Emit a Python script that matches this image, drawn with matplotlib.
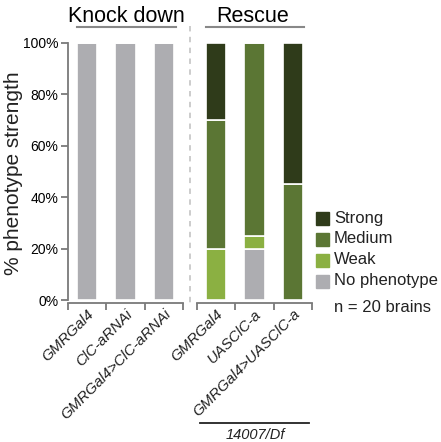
import matplotlib
matplotlib.use("Agg")
import matplotlib.pyplot as plt
from matplotlib.patches import Rectangle
from matplotlib.lines import Line2D

plt.rcParams['font.family'] = ['Liberation Sans', 'DejaVu Sans']

# Data
knockdown_labels = ["GMRGal4", "ClC-aRNAi", "GMRGal4>ClC-aRNAi"]
rescue_labels = ["GMRGal4", "UASClC-a", "GMRGal4>UASClC-a"]
categories = ["No phenotype", "Weak", "Medium", "Strong"]

knockdown_none = [100, 100, 100]
knockdown_weak = [0, 0, 0]
knockdown_medium = [0, 0, 0]
knockdown_strong = [0, 0, 0]

rescue_none = [0, 20, 0]
rescue_weak = [20, 5, 0]
rescue_medium = [50, 75, 45]
rescue_strong = [30, 0, 55]

colors = {
    "No phenotype": "#adadb1",
    "Weak": "#8bb042",
    "Medium": "#5b7634",
    "Strong": "#2f3b1a",
}
spine_color = "#7a7a7a"

W, H = 441, 442
fig = plt.figure(figsize=(W / 100, H / 100), dpi=100)


def px_axes(x0, x1, y0, y1):
    return fig.add_axes([x0 / W, 1 - y1 / H, (x1 - x0) / W, (y1 - y0) / H])


ax1 = px_axes(68, 183, 43, 300)
ax2 = px_axes(197, 312, 43, 300)


def draw_group(ax, labels, series):
    for s in ["top", "right"]:
        ax.spines[s].set_visible(False)
    ax.spines["bottom"].set_position(("outward", 2))
    ax.spines["bottom"].set_color(spine_color)
    ax.spines["bottom"].set_linewidth(1.3)

    x = range(len(labels))
    bottom = [0] * len(labels)
    for cat, vals in zip(categories, series):
        ax.bar(x, vals, bottom=bottom, width=0.53, color=colors[cat],
               edgecolor="white", linewidth=1.2, zorder=2)
        bottom = [b + v for b, v in zip(bottom, vals)]
    ax.set_xlim(-0.5, len(labels) - 0.5)
    ax.set_ylim(0, 100)
    ax.set_xticks(list(x))
    ax.set_xticklabels(labels, rotation=45, ha="right", rotation_mode="anchor",
                       fontsize=10.8, style="italic", color="#222222")
    ax.tick_params(axis="x", length=0, pad=3)
    for lab in ax.get_xticklabels():
        lab.set_x(lab.get_position()[0])
    ax.set_xticks([-0.5, 0.5, 1.5, 2.5], minor=True)
    ax.tick_params(axis="x", which="minor", length=5, width=1.3,
                   color=spine_color, direction="out")


draw_group(ax1, knockdown_labels,
           [knockdown_none, knockdown_weak, knockdown_medium, knockdown_strong])
draw_group(ax2, rescue_labels,
           [rescue_none, rescue_weak, rescue_medium, rescue_strong])

ax1.spines["left"].set_color(spine_color)
ax1.spines["left"].set_linewidth(1.3)
ax1.set_yticks([0, 20, 40, 60, 80, 100])
ax1.set_yticklabels([f"{v}%" for v in [0, 20, 40, 60, 80, 100]], fontsize=10)
ax1.tick_params(axis="y", length=5, width=1.3, color=spine_color, pad=2)

ax2.spines["left"].set_visible(False)
ax2.set_yticks([])

# Axis title
fig.text(14 / W, 1 - 173 / H, "% phenotype strength", rotation=90,
         ha="center", va="center", fontsize=15, color="#222222")

# Group headers with underlines
fig.text(126 / W, 1 - 16 / H, "Knock down", ha="center", va="center", fontsize=15.5)
fig.text(253 / W, 1 - 16 / H, "Rescue", ha="center", va="center", fontsize=15.5)
for x0, x1 in [(77, 176), (206, 304)]:
    fig.add_artist(Line2D([x0 / W, x1 / W], [1 - 27 / H, 1 - 27 / H],
                          color="#888888", lw=1.5))

# Dashed separator
fig.add_artist(Line2D([190 / W, 190 / W], [1 - 26 / H, 1 - 305 / H],
                      color="#c8c8c8", lw=1.3, linestyle=(0, (3, 3))))

# Genotype bracket under the rescue group
fig.add_artist(Line2D([200 / W, 309 / W], [1 - 423 / H, 1 - 423 / H],
                      color="#222222", lw=1.3))
fig.text(255 / W, 1 - 435 / H, "14007/Df", ha="center", va="center",
         fontsize=10.5, style="italic", color="#222222")

# Legend
legend_items = ["Strong", "Medium", "Weak", "No phenotype"]
for i, cat in enumerate(legend_items):
    yc = 218 + i * 21
    fig.add_artist(Rectangle((316 / W, 1 - (yc + 6.5) / H), 13 / W, 13 / H,
                             transform=fig.transFigure, color=colors[cat]))
    fig.text(334 / W, 1 - yc / H, cat, ha="left", va="center", fontsize=12,
             color="#222222")
fig.text(334 / W, 1 - 308 / H, "n = 20 brains", ha="left", va="center",
         fontsize=12, color="#222222")

fig.savefig("out.png", dpi=100)
